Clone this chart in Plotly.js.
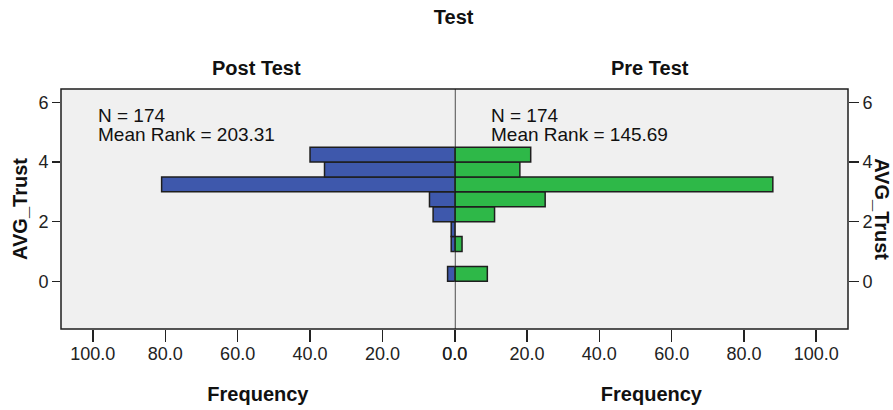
<!DOCTYPE html>
<html><head><meta charset="utf-8">
<script src="https://cdn.plot.ly/plotly-3.0.1.min.js"></script>
<style>html,body{margin:0;padding:0;background:#fff;}#chart{width:893px;height:410px;}</style>
</head><body><div id="chart"></div>
<script>
// Histogram bins of AVG_Trust (bin width 0.5), bottom to top
const binCenters = [0.25, 1.25, 1.75, 2.25, 2.75, 3.25, 3.75, 4.25];
const postTestFreq = [2, 1, 1, 6, 7, 81, 36, 40];
const preTestFreq  = [9, 2, 0, 11, 25, 88, 18, 21];
const groupNames = ['Post Test', 'Pre Test'];
const groupN = [174, 174];
const meanRanks = ['203.31', '145.69'];
const freqTicks = [0, 20, 40, 60, 80, 100];
const yTicks = [0, 2, 4, 6];

const FONT = 'Liberation Sans, Arial, sans-serif';
const BLUE = '#3e58ac', GREEN = '#2eb848', EDGE = '#1e1e1e';
const XMAX = 108.8;
const SPLIT = 0.5004;

const traces = [
  {type:'bar', orientation:'h', y:binCenters, x:postTestFreq, width:0.5,
   marker:{color:BLUE, line:{color:EDGE, width:1.5}}, xaxis:'x', yaxis:'y', name:groupNames[0]},
  {type:'bar', orientation:'h', y:binCenters, x:preTestFreq, width:0.5,
   marker:{color:GREEN, line:{color:EDGE, width:1.5}}, xaxis:'x2', yaxis:'y2', name:groupNames[1]}
];

const tickFont = {family:FONT, size:18, color:'#222'};
const titleFont = {family:FONT, size:20, color:'#111', weight:'bold'};

const xCommon = {
  tickvals:freqTicks, ticktext:freqTicks.map(v=>v.toFixed(1)),
  ticks:'outside', ticklen:12, tickcolor:'#222', tickwidth:1.5, ticklabelstandoff:-4,
  showgrid:false, zeroline:false, showline:false, tickfont:tickFont,
  title:{text:'Frequency', font:titleFont, standoff:24}, fixedrange:true
};

const layout = {
  width:893, height:410,
  margin:{l:61, r:45, t:89, b:81},
  paper_bgcolor:'#ffffff', plot_bgcolor:'#f0f0f0',
  showlegend:false, bargap:0,
  title:{text:'<b>Test</b>', font:{family:FONT, size:20, color:'#111'}, x:0.508, xanchor:'center', y:0.958, yanchor:'middle'},
  xaxis: Object.assign({}, xCommon, {domain:[0, SPLIT], range:[XMAX, 0], anchor:'y'}),
  xaxis2: Object.assign({}, xCommon, {domain:[SPLIT, 1], range:[0, XMAX], anchor:'y2'}),
  yaxis: {range:[-1.6, 6.45], tickvals:yTicks, ticks:'outside', ticklen:8, tickwidth:1.5, tickcolor:'#222',
    showgrid:false, zeroline:false, showline:false, tickfont:tickFont, anchor:'x',
    title:{text:'AVG_Trust', font:titleFont, standoff:5}},
  yaxis2: {matches:'y', range:[-1.6, 6.45], tickvals:yTicks, ticks:'outside', ticklen:10, tickwidth:1.5, tickcolor:'#222',
    showgrid:false, zeroline:false, showline:false, tickfont:tickFont, anchor:'x2', side:'right'},
  shapes:[
    {type:'rect', xref:'paper', yref:'paper', x0:0, x1:1, y0:0, y1:1, line:{color:'#1e1e1e', width:1.5}},
    {type:'line', xref:'x2', yref:'paper', x0:0, x1:0, y0:0, y1:1, line:{color:'#111', width:1.5}}
  ],
  annotations:[
    {text:'<b>'+groupNames[0]+'</b>', xref:'paper', yref:'paper', x:0.249, y:1.088, xanchor:'center', yanchor:'middle', showarrow:false, font:{family:FONT, size:20, color:'#111'}},
    {text:'<b>'+groupNames[1]+'</b>', xref:'paper', yref:'paper', x:0.748, y:1.088, xanchor:'center', yanchor:'middle', showarrow:false, font:{family:FONT, size:20, color:'#111'}},
    {text:'N = '+groupN[0], xref:'paper', yref:'paper', x:0.044, y:0.888, xanchor:'left', yanchor:'middle', showarrow:false, font:{family:FONT, size:19, color:'#111'}},
    {text:'Mean Rank = '+meanRanks[0], xref:'paper', yref:'paper', x:0.044, y:0.811, xanchor:'left', yanchor:'middle', showarrow:false, font:{family:FONT, size:19, color:'#111'}},
    {text:'N = '+groupN[1], xref:'paper', yref:'paper', x:0.544, y:0.888, xanchor:'left', yanchor:'middle', showarrow:false, font:{family:FONT, size:19, color:'#111'}},
    {text:'Mean Rank = '+meanRanks[1], xref:'paper', yref:'paper', x:0.544, y:0.811, xanchor:'left', yanchor:'middle', showarrow:false, font:{family:FONT, size:19, color:'#111'}},
    {text:'<b>AVG_Trust</b>', xref:'paper', yref:'paper', x:1.043, y:0.5, xanchor:'center', yanchor:'middle', textangle:90, showarrow:false, font:{family:FONT, size:20, color:'#111'}}
  ]
};

Plotly.newPlot('chart', traces, layout, {displayModeBar:false, staticPlot:true});
</script>
</body></html>
